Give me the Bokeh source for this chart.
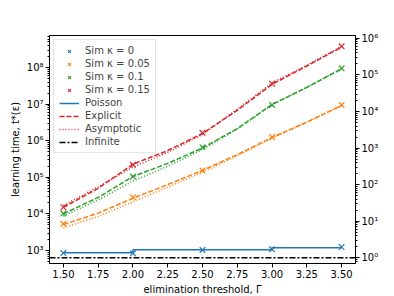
from bokeh.plotting import figure
from bokeh.models import (Range1d, LogScale, LogAxis, LogTicker, FixedTicker, NumeralTickFormatter,
                          CustomJSTickFormatter, Legend, LegendItem)
from bokeh.embed import file_html
from bokeh.resources import INLINE

# ---- data ----
gamma_sim = [1.5, 2.0, 2.5, 3.0, 3.5]
sim_k0 = [850, 840, 1040, 1080, 1250]
sim_k005 = [5350, 28600, 153000, 1.26e6, 9.5e6]
sim_k01 = [10200, 105000, 660000, 9.5e6, 9.5e7]
sim_k015 = [15200, 219000, 1.64e6, 3.6e7, 3.8e8]

poisson_x = [1.5, 2.0, 3.0, 3.5]
poisson_y = [865, 865, 1045, 1185]

gamma_curve = [1.5, 1.75, 2.0, 2.25, 2.5, 2.75, 3.0, 3.25, 3.5]
explicit_k005 = [5130, 10500, 26900, 63100, 155000, 417000, 1.23e6, 3.24e6, 9.12e6]
explicit_k01 = [10000, 28200, 105000, 240000, 631000, 2.14e6, 9.77e6, 2.88e7, 9.12e7]
explicit_k015 = [15100, 50100, 229000, 537000, 1.58e6, 6.76e6, 3.47e7, 1.1e8, 3.63e8]
asym_k005 = [4170, 8510, 21400, 53700, 138000, 389000, 1.17e6, 3.16e6, 9.33e6]
asym_k01 = [8710, 24000, 79400, 200000, 575000, 2.09e6, 9.55e6, 2.88e7, 9.33e7]
asym_k015 = [17000, 55000, 191000, 479000, 1.48e6, 7.24e6, 3.8e7, 1.15e8, 3.8e8]

infinite_value = 630

x_ticks = [1.5, 1.75, 2.0, 2.25, 2.5, 2.75, 3.0, 3.25, 3.5]
sim_labels = ["Sim κ = 0", "Sim κ = 0.05", "Sim κ = 0.1", "Sim κ = 0.15"]

BLUE, ORANGE, GREEN, RED = "#1f77b4", "#ff7f0e", "#2ca02c", "#d62728"
FONT = "DejaVu Sans"
FS = "10px"
DASHDOT = "6 2 2 2"

x_lo, x_hi = 1.4, 3.6
y_lo, y_hi = 442, 7.5e8

p = figure(width=386, height=288, frame_width=306, frame_height=228,
           x_range=Range1d(x_lo, x_hi), y_range=Range1d(y_lo, y_hi),
           y_axis_type="log", output_backend="svg", toolbar_location=None,
           min_border_left=49, min_border_right=31, min_border_top=35, min_border_bottom=25)
p.xgrid.visible = False
p.ygrid.visible = False
p.outline_line_color = "black"
p.outline_line_width = 1
p.background_fill_color = "white"

sup_code = """
const sup = {'-':'\u207b','0':'\u2070','1':'\u00b9','2':'\u00b2','3':'\u00b3','4':'\u2074','5':'\u2075','6':'\u2076','7':'\u2077','8':'\u2078','9':'\u2079'};
const e = Math.round(Math.log10(tick));
return '10' + String(e).split('').map(c => sup[c]).join('');
"""

# right axis
p.extra_y_ranges = {"ratio": Range1d(y_lo / infinite_value, y_hi / infinite_value)}
p.extra_y_scales = {"ratio": LogScale()}
raxis = LogAxis(y_range_name="ratio")
p.add_layout(raxis, "right")

for ax in [p.yaxis[0], raxis]:
    ax.ticker = LogTicker(desired_num_ticks=10, num_minor_ticks=10)
    ax.formatter = CustomJSTickFormatter(code=sup_code)

for ax in [p.xaxis[0], p.yaxis[0], raxis]:
    ax.major_label_text_font = FONT
    ax.major_label_text_font_size = FS
    ax.major_label_text_color = "black"
    ax.axis_label_text_font = FONT
    ax.axis_label_text_font_size = FS
    ax.axis_label_text_font_style = "normal"
    ax.axis_label_text_color = "black"
    ax.axis_line_color = "black"
    ax.major_tick_line_color = "black"
    ax.minor_tick_line_color = "black"
    ax.major_tick_out = 4
    ax.major_tick_in = 0
    ax.minor_tick_out = 2
    ax.minor_tick_in = 0
    ax.major_label_standoff = 2
    ax.axis_label_standoff = 3

p.xaxis[0].ticker = FixedTicker(ticks=x_ticks)
p.xaxis[0].formatter = NumeralTickFormatter(format="0.00")
p.xaxis[0].axis_label = "elimination threshold, Γ"
p.yaxis[0].axis_label = "learning time, t*(ε)"

# infinite line (spans whole axis)
r_inf = p.line([x_lo, x_hi], [infinite_value, infinite_value], line_color="black",
               line_width=1.5, line_dash=DASHDOT)

# Poisson
r_poi = p.step(poisson_x, poisson_y, mode="before", line_color=BLUE, line_width=1.5)

# Explicit (dashed) and asymptotic (dotted)
r_exp = {}
r_asy = {}
for col, ex, asy in [(ORANGE, explicit_k005, asym_k005), (GREEN, explicit_k01, asym_k01),
                     (RED, explicit_k015, asym_k015)]:
    r_exp[col] = p.line(gamma_curve, ex, line_color=col, line_width=1.5, line_dash="5 2")
    r_asy[col] = p.line(gamma_curve, asy, line_color=col, line_width=1.5, line_dash="1 2")

# simulation markers
r_sim = []
for col, ys in [(BLUE, sim_k0), (ORANGE, sim_k005), (GREEN, sim_k01), (RED, sim_k015)]:
    r_sim.append(p.scatter(gamma_sim, ys, marker="x", size=8, line_color=col, line_width=1.2))

items = [LegendItem(label=lab, renderers=[r]) for lab, r in zip(sim_labels, r_sim)]
items += [LegendItem(label="Poisson", renderers=[r_poi]),
          LegendItem(label="Explicit", renderers=[r_exp[RED]]),
          LegendItem(label="Asymptotic", renderers=[r_asy[RED]]),
          LegendItem(label="Infinite", renderers=[r_inf])]
legend = Legend(items=items, location="top_left",
                label_text_font=FONT, label_text_font_size=FS,
                glyph_height=10, glyph_width=20, label_height=10, label_standoff=6,
                spacing=2, padding=5, margin=4,
                border_line_color="#cccccc", border_line_width=1,
                background_fill_alpha=0.8)
p.add_layout(legend)

open("out.html", "w").write(file_html(p, INLINE))
